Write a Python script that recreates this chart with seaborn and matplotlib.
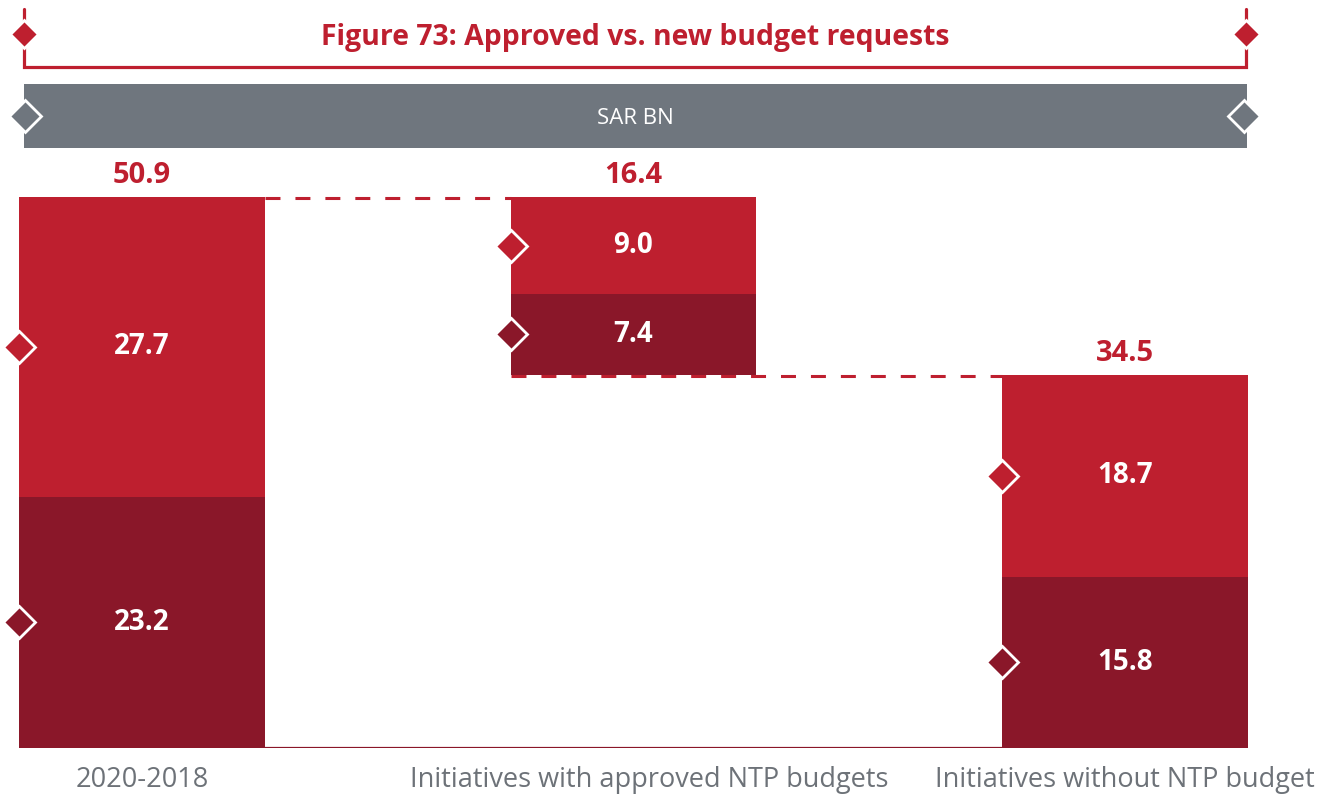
import matplotlib
matplotlib.use("Agg")
import matplotlib.pyplot as plt
import matplotlib.transforms as mtransforms
import seaborn as sns
from matplotlib.patches import Rectangle

# ---- data -------------------------------------------------------------
categories = [
    "2020-2018",
    "Initiatives with approved NTP budgets",
    "Initiatives without NTP budget",
]
lower_values = [23.2, 7.4, 15.8]   # darker, bottom segment
upper_values = [27.7, 9.0, 18.7]   # lighter, top segment
totals = [50.9, 16.4, 34.5]
title_text = "Figure 73: Approved vs. new budget requests"
unit_text = "SAR BN"

# ---- style ------------------------------------------------------------
RED = "#BE1F2F"
DARK = "#8A1729"
GRAY = "#6F767E"
TEXT_GRAY = "#6D7278"

sns.set_theme(style="white")
plt.rcParams["font.family"] = ["Open Sans", "DejaVu Sans"]

W, H = 1333, 798
fig = plt.figure(figsize=(W / 100, H / 100), dpi=100)
fig.patch.set_facecolor("white")

# main plotting area (pixel frame of the bars)
left_px, right_px = 19, 1248
base_px, top_px = 748, 197
ax = fig.add_axes([left_px / W, (H - base_px) / H,
                   (right_px - left_px) / W, (base_px - top_px) / H])

# waterfall: the middle bar hangs from the first total down to the third
bases = [0.0, totals[0] - totals[1], 0.0]
upper_bottoms = [b + v for b, v in zip(bases, lower_values)]

bar_kws = dict(saturation=1, width=0.5, errorbar=None, linewidth=0, ax=ax)
sns.barplot(x=categories, y=lower_values, bottom=bases, color=DARK, **bar_kws)
sns.barplot(x=categories, y=upper_values, bottom=upper_bottoms, color=RED, **bar_kws)

ax.set_xlim(-0.25, 2.25)
ax.set_ylim(0, totals[0])
ax.set_yticks([])
ax.set_xlabel("")
ax.set_ylabel("")
sns.despine(ax=ax, left=True, bottom=True)
ax.tick_params(axis="x", length=0, pad=13, labelsize=19.5, labelcolor=TEXT_GRAY)
ax.axhline(0, color=DARK, lw=1.6, zorder=0.5)

# nudge the long middle category label a little to the right
mid_label = ax.get_xticklabels()[1]
mid_label.set_transform(mid_label.get_transform()
                        + mtransforms.ScaledTranslation(0.16, 0, fig.dpi_scale_trans))

n = len(categories)
dark_bars = ax.patches[:n]
light_bars = ax.patches[n:2 * n]

# segment values and side diamonds
for bars, vals, col in ((dark_bars, lower_values, DARK), (light_bars, upper_values, RED)):
    for p, v in zip(bars, vals):
        cx = p.get_x() + p.get_width() / 2
        cy = p.get_y() + p.get_height() / 2
        ax.text(cx, cy, f"{v:.1f}", ha="center", va="center", color="white",
                fontsize=20, fontweight="bold", zorder=6)
        ax.plot(p.get_x(), cy, marker="D", ms=16, mfc=col, mec="white", mew=2,
                clip_on=False, zorder=7)

# totals above each bar
for p, t in zip(light_bars, totals):
    cx = p.get_x() + p.get_width() / 2
    top = p.get_y() + p.get_height()
    ax.annotate(f"{t:.1f}", (cx, top), xytext=(0, 15.5), textcoords="offset points",
                ha="center", va="center", color=RED, fontsize=21,
                fontweight="bold", annotation_clip=False)

# dashed connectors of the waterfall
dash = (0, (4.9, 4.9))
ax.plot([light_bars[0].get_x() + light_bars[0].get_width(), light_bars[1].get_x()],
        [totals[0] - 0.1] * 2, color=RED, lw=2.2, ls=dash, clip_on=False, zorder=4)
ax.plot([dark_bars[1].get_x(), dark_bars[2].get_x()],
        [dark_bars[1].get_y() - 0.15] * 2, color=RED, lw=2.2, ls=dash,
        clip_on=False, zorder=4)

# ---- header -----------------------------------------------------------
hdr = fig.add_axes([0, 0, 1, 1])
hdr.set_xlim(0, W)
hdr.set_ylim(H, 0)
hdr.axis("off")

hdr.plot([24, 24, 1246, 1246], [9, 66.5, 66.5, 9], color=RED, lw=2.3,
         solid_joinstyle="miter")
hdr.plot([24, 1246], [34, 34], ls="none", marker="D", ms=14, mfc=RED,
         mec="white", mew=2)
hdr.text(635, 37, title_text, ha="center", va="center", color=RED,
         fontsize=20.4, fontweight="bold")

hdr.add_patch(Rectangle((24, 84), 1223, 64, facecolor=GRAY, edgecolor="none"))
hdr.text(635.5, 118, unit_text, ha="center", va="center", color="white", fontsize=16)
hdr.plot([25, 1244], [116, 116], ls="none", marker="D", ms=16, mfc=GRAY,
         mec="white", mew=2)

fig.savefig("out.png", dpi=100)
